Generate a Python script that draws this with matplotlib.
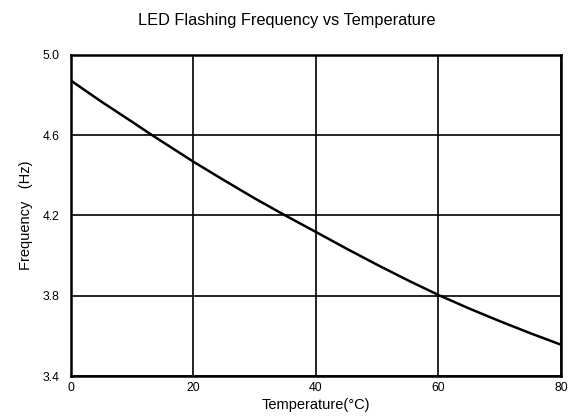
import matplotlib.pyplot as plt

plt.rcParams["font.family"] = ["Liberation Sans", "DejaVu Sans"]

# Werte
temp_c = [0, 5, 10, 13.2, 20, 25, 30, 35, 40, 45, 50, 55, 60, 65, 70, 75, 80]
freq_hz = [4.87, 4.765, 4.665, 4.60, 4.467, 4.375, 4.285, 4.20, 4.118, 4.035, 3.955, 3.878, 3.805, 3.738, 3.675, 3.615, 3.558]

x_ticks = [0, 20, 40, 60, 80]
y_ticks = [3.4, 3.8, 4.2, 4.6, 5.0]

fig = plt.figure(figsize=(5.73, 4.18), dpi=100)
ax = fig.add_axes([0.1239, 0.0993, 0.8551, 0.7703])

ax.plot(temp_c, freq_hz, color="black", lw=1.8)

ax.set_xlim(0, 80)
ax.set_ylim(3.4, 5.0)
ax.set_xticks(x_ticks)
ax.set_yticks(y_ticks)
ax.set_yticklabels([f"{v:.1f}" for v in y_ticks])
ax.tick_params(length=0, labelsize=8.8)
ax.tick_params(axis="y", pad=8)
ax.tick_params(axis="x", pad=4)
ax.grid(True, color="black", lw=1.2)
for s in ax.spines.values():
    s.set_linewidth(1.8)

ax.set_xlabel("Temperature(°C)", fontsize=10.5, labelpad=3)
ax.set_ylabel("Frequency   (Hz)", fontsize=10.5, labelpad=7)
fig.suptitle("LED Flashing Frequency vs Temperature", fontsize=11.8, y=0.97)

fig.savefig("out.png", dpi=100)
